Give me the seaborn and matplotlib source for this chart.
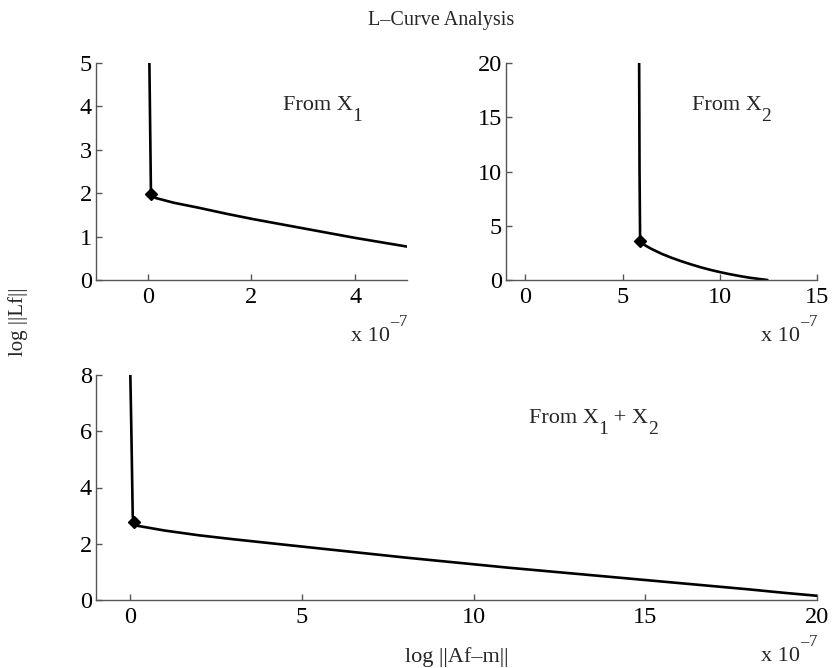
import matplotlib
matplotlib.use("Agg")
import matplotlib.pyplot as plt
import seaborn as sns

# courbes L (abscisses en unites de 1e-7)
x_x1 = [0.03, 0.04, 0.05, 0.06, 0.15, 0.5, 1.0, 1.5, 2.0, 2.5, 3.0, 3.5, 4.0, 4.5, 5.0]
y_x1 = [5.0, 4.0, 3.0, 2.0, 1.89, 1.78, 1.66, 1.53, 1.41, 1.30, 1.19, 1.08, 0.97, 0.87, 0.77]
corner_x1 = (0.06, 1.98)

x_x2 = [5.85, 5.86, 5.87, 5.9, 6.1, 6.5, 7.0, 7.5, 8.0, 8.5, 9.0, 9.5, 10.0, 10.5, 11.0, 11.5, 12.0, 12.45]
y_x2 = [20.0, 15.0, 10.0, 3.6, 3.25, 2.85, 2.42, 2.06, 1.74, 1.45, 1.18, 0.94, 0.73, 0.54, 0.37, 0.22, 0.1, 0.0]
corner_x2 = (5.9, 3.6)

x_x12 = [0.0, 0.03, 0.07, 0.1, 0.2, 1, 2, 3, 4, 5, 6, 7, 8, 9, 10, 11, 12, 13, 14, 15, 16, 17, 18, 19, 20]
y_x12 = [8.0, 6.0, 2.97, 2.78, 2.64, 2.47, 2.30, 2.16, 2.03, 1.90, 1.77, 1.64, 1.51, 1.39, 1.27,
         1.15, 1.04, 0.93, 0.82, 0.71, 0.60, 0.49, 0.38, 0.26, 0.15]
corner_x12 = (0.1, 2.79)

xticks_1 = [0, 2, 4]
yticks_1 = [0, 1, 2, 3, 4, 5]
xticks_2 = [0, 5, 10, 15]
yticks_2 = [0, 5, 10, 15, 20]
xticks_3 = [0, 5, 10, 15, 20]
yticks_3 = [0, 2, 4, 6, 8]

sns.set_style("ticks")
plt.rcParams['font.family'] = ['Liberation Serif', 'DejaVu Serif']

W, H = 832, 668
fig = plt.figure(figsize=(W / 100, H / 100), dpi=100)
renderer = fig.canvas.get_renderer()


def px_axes(left, right, top, bottom):
    return fig.add_axes([left / W, 1 - bottom / H, (right - left) / W, (bottom - top) / H])


def rich_text(x, y, pieces, ha='left'):
    # pieces : (texte, taille, decalage vertical en px), x/y en pixels (ligne de base)
    texts, widths = [], []
    for s, size, dy in pieces:
        t = fig.text(0, 0, s, fontsize=size, transform=None, va='baseline', ha='left')
        widths.append(t.get_window_extent(renderer).width)
        texts.append(t)
    total = sum(widths)
    cx = x - total if ha == 'right' else (x - total / 2 if ha == 'center' else x)
    for t, w, (s, size, dy) in zip(texts, widths, pieces):
        t.set_position((cx, y + dy))
        cx += w


ax1 = px_axes(96, 407, 63, 280)
ax2 = px_axes(506, 817, 63, 280)
ax3 = px_axes(96, 817, 375, 600)

panels = [
    (ax1, x_x1, y_x1, corner_x1, (-1, 5), (0, 5), xticks_1, yticks_1,
     [('From X', 16, 0), ('1', 14, -11)], (2.6, 3.92)),
    (ax2, x_x2, y_x2, corner_x2, (-1, 15), (0, 20), xticks_2, yticks_2,
     [('From X', 16, 0), ('2', 14, -11)], (8.55, 15.7)),
    (ax3, x_x12, y_x12, corner_x12, (-1, 20), (0, 8), xticks_3, yticks_3,
     [('From X', 16, 0), ('1', 14, -11), (' + X', 16, 0), ('2', 14, -11)], (11.6, 6.3)),
]

for ax, xs, ys, corner, xlim, ylim, xt, yt, label, pos in panels:
    sns.lineplot(x=xs, y=ys, ax=ax, sort=False, estimator=None, color='black', linewidth=1.9)
    ax.plot([corner[0]], [corner[1]], marker='D', color='black', markersize=6.5, linestyle='none')
    ax.set_xlim(*xlim)
    ax.set_ylim(*ylim)
    ax.set_xticks(xt)
    ax.set_yticks(yt)
    ax.tick_params(direction='in', length=4, width=1, color='#555555', labelsize=17.5,
                   labelcolor='black')
    ax.tick_params(axis='x', pad=5)
    ax.tick_params(axis='y', pad=3)
    for s in ['top', 'right']:
        ax.spines[s].set_visible(False)
    for s in ['left', 'bottom']:
        ax.spines[s].set_color('#555555')
        ax.spines[s].set_linewidth(1.0)
    px, py = ax.transData.transform(pos)
    rich_text(px, py, label)
    bx, by = ax.transAxes.transform((1, 0))
    rich_text(bx, by - 61, [('x 10', 16, 0), ('\u2013', 12, 15), ('7', 12, 15)], ha='right')

bx, by = ax3.transAxes.transform((0.5, 0))
rich_text(bx, by - 62, [('log ||Af\u2013m||', 16, 0)], ha='center')

fig.text(18 / W, 1 - 322 / H, 'log ||Lf||', rotation=90, ha='center', va='center', fontsize=15)
fig.text(441 / W, 1 - 20 / H, 'L\u2013Curve Analysis', ha='center', va='center', fontsize=14.5)

fig.savefig('out.png', dpi=100)
